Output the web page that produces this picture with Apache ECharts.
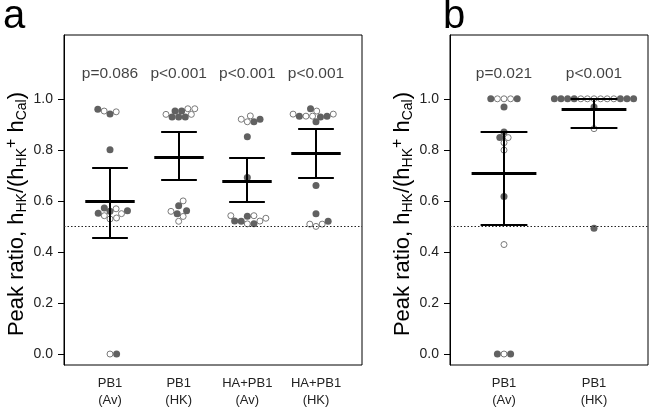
<!DOCTYPE html>
<html><head><meta charset="utf-8">
<script src="https://cdn.jsdelivr.net/npm/echarts@6/dist/echarts.min.js"></script>
<style>html,body{margin:0;padding:0;background:#fff}#c{width:650px;height:409px}</style>
</head><body><div id="c"></div>
<script>
// ---------- data ----------
const catA = ['PB1\n(Av)', 'PB1\n(HK)', 'HA+PB1\n(Av)', 'HA+PB1\n(HK)'];
const catB = ['PB1\n(Av)', 'PB1\n(HK)'];
const yTicks = [0, 0.2, 0.4, 0.6, 0.8, 1.0];

const a1Val  = [0.940, 0.949, 0.952, 0.959, 0.800, 0.572, 0.561, 0.569, 0.552, 0.542, 0.533, 0.529, 0.550, 0.559, 0.000, 0.000];
const a1Fill = [1, 0, 0, 1, 1, 1, 1, 0, 1, 0, 0, 0, 0, 1, 0, 1];
const a2Val  = [0.952, 0.939, 0.929, 0.929, 0.929, 0.961, 0.961, 0.939, 0.952, 0.600, 0.581, 0.561, 0.550, 0.559, 0.539, 0.520];
const a2Fill = [1, 0, 1, 1, 1, 0, 0, 0, 1, 0, 1, 1, 1, 0, 0, 0];
const a3Val  = [0.933, 0.920, 0.910, 0.910, 0.920, 0.851, 0.692, 0.540, 0.521, 0.521, 0.542, 0.542, 0.510, 0.510, 0.520, 0.532];
const a3Fill = [0, 0, 0, 1, 1, 1, 1, 1, 1, 0, 0, 0, 0, 1, 1, 0];
const a4Val  = [0.940, 0.929, 0.932, 0.952, 0.961, 0.932, 0.932, 0.932, 0.940, 0.910, 0.660, 0.550, 0.509, 0.500, 0.509, 0.520];
const a4Fill = [0, 1, 0, 0, 1, 0, 1, 1, 0, 1, 1, 1, 0, 0, 0, 1];
const b1Val  = [1, 1, 1, 1, 1, 0.968, 0.870, 0.848, 0.848, 0.828, 0.799, 0.617, 0.429, 0, 0, 0];
const b1Fill = [1, 0, 0, 0, 1, 1, 1, 1, 0, 0, 0, 1, 0, 1, 0, 1];
const b2Val  = [1, 1, 1, 1, 1, 1, 1, 1, 1, 1, 1, 1, 1, 0.968, 0.883, 0.493];
const b2Fill = [1, 1, 1, 1, 1, 1, 1, 0, 0, 0, 0, 0, 0, 1, 0, 1];

const meanA = [0.598, 0.773, 0.678, 0.789];
const upA   = [0.728, 0.870, 0.770, 0.881];
const loA   = [0.455, 0.680, 0.594, 0.689];
const meanB = [0.708, 0.959];
const upB   = [0.870, 1.000];
const loB   = [0.507, 0.887];

const pA = ['p=0.086', 'p<0.001', 'p<0.001', 'p<0.001'];
const pB = ['p=0.021', 'p<0.001'];
const pY = 1.10;
const refLine = 0.5;

// ---------- layout ----------
const FONT = '"Liberation Sans", Arial, Helvetica, sans-serif';
const Y_MIN = -0.043, Y_MAX = 1.25;
const GA = {left: 64, top: 35, width: 298, height: 331}, XA = [0.33, 4.67];
const GB = {left: 450, top: 35, width: 198, height: 331}, XB = [0.4, 2.6];
const DOT = 6.6;
const FILL = '#616161', OPEN_BORDER = '#7a7a7a';

function swarm(vals, fills, sx, sy, d) {
  const idx = vals.map((v, i) => i).sort((i, j) => (vals[i] - vals[j]) || (fills[i] - fills[j]) || (i - j));
  const placed = [], off = new Array(vals.length);
  for (const i of idx) {
    const y = vals[i] * sy;
    const cands = [0];
    for (const p of placed) {
      const dy = Math.abs(y - p.y);
      if (dy < d) { const dx = Math.sqrt(d * d - dy * dy); cands.push(p.x + dx, p.x - dx); }
    }
    let best = null;
    for (const c of cands) {
      let ok = true;
      for (const p of placed) { if ((c - p.x) ** 2 + (y - p.y) ** 2 < d * d - 1e-6) { ok = false; break; } }
      if (ok && (best === null || Math.abs(c) < Math.abs(best) - 1e-9)) best = c;
    }
    placed.push({x: best, y});
    off[i] = best / sx;
  }
  return off;
}

function pointSeries(groups, grid, X, axisIdx) {
  const sx = grid.width / (X[1] - X[0]);
  const sy = grid.height / (Y_MAX - Y_MIN);
  const filled = [], open = [];
  groups.forEach(([vals, fills], gi) => {
    const off = swarm(vals, fills, sx, sy, DOT);
    vals.forEach((v, i) => { (fills[i] ? filled : open).push([gi + 1 + off[i], v]); });
  });
  return [
    {type: 'scatter', xAxisIndex: axisIdx, yAxisIndex: axisIdx, data: open, symbol: 'circle', symbolSize: DOT - 0.6,
     itemStyle: {color: '#fff', borderColor: OPEN_BORDER, borderWidth: 1, opacity: 1}, z: 3, silent: true,
     markLine: {silent: true, symbol: ['none', 'none'], label: {show: false},
       lineStyle: {type: [1.5, 2], color: '#222', width: 1}, data: [{yAxis: refLine}]}},
    {type: 'scatter', xAxisIndex: axisIdx, yAxisIndex: axisIdx, data: filled, symbol: 'circle', symbolSize: DOT + 0.4,
     itemStyle: {color: FILL, opacity: 1}, z: 3, silent: true}
  ];
}

function errSeries(mean, lo, up, axisIdx) {
  return {
    type: 'custom', xAxisIndex: axisIdx, yAxisIndex: axisIdx, z: 5, silent: true,
    data: mean.map((m, i) => [i + 1, m, lo[i], up[i]]),
    renderItem(params, api) {
      const x = api.value(0);
      const pm = api.coord([x, api.value(1)]), pl = api.coord([x, api.value(2)]), pu = api.coord([x, api.value(3)]);
      const s = api.size([1, 0])[0];
      const hm = 0.36 * s, hc = 0.26 * s;
      const cx = Math.round(pm[0]);
      const ym = Math.round(pm[1]) + 0.5, yl = Math.round(pl[1]), yu = Math.round(pu[1]);
      const st = w => ({stroke: '#000', lineWidth: w});
      return {type: 'group', children: [
        {type: 'line', shape: {x1: cx, y1: yl, x2: cx, y2: yu}, style: st(2)},
        {type: 'line', shape: {x1: cx - hc, y1: yl, x2: cx + hc, y2: yl}, style: st(2)},
        {type: 'line', shape: {x1: cx - hc, y1: yu, x2: cx + hc, y2: yu}, style: st(2)},
        {type: 'line', shape: {x1: cx - hm, y1: ym, x2: cx + hm, y2: ym}, style: st(3)}
      ]};
    }
  };
}

function pSeries(labels, axisIdx) {
  return {type: 'scatter', xAxisIndex: axisIdx, yAxisIndex: axisIdx, symbolSize: 0, silent: true,
    data: labels.map((t, i) => [i + 1, pY]),
    label: {show: true, position: 'inside', formatter: p => labels[p.dataIndex], fontSize: 15.5, color: '#111', fontFamily: FONT}};
}

function xAxis(X, cats, gi) {
  return {type: 'value', gridIndex: gi, min: X[0], max: X[1],
    axisLine: {show: false}, axisTick: {show: false}, splitLine: {show: false},
    axisLabel: {customValues: cats.map((c, i) => i + 1), formatter: v => cats[Math.round(v) - 1] || '',
      fontSize: 13, lineHeight: 17, color: '#222', margin: 10, fontFamily: FONT}};
}

const yName = '{n|Peak ratio, h}{s|HK}{n|/(h}{s|HK}{p|+}{n| h}{s|Cal}{n|)}';
function yAxis(gi) {
  return {type: 'value', gridIndex: gi, min: Y_MIN, max: Y_MAX,
    axisLine: {show: true, lineStyle: {color: '#000', width: 1}},
    axisTick: {show: true, length: 6, customValues: yTicks, lineStyle: {color: '#000'}},
    splitLine: {show: false},
    axisLabel: {customValues: yTicks, formatter: v => v.toFixed(1), fontSize: 14, color: '#222', margin: 11, fontFamily: FONT},
    name: yName, nameLocation: 'middle', nameRotate: 90, nameGap: 35,
    nameTextStyle: {fontFamily: FONT, color: '#000', padding: [0, 28, 0, 0], rich: {
      n: {fontSize: 22, lineHeight: 25, fontFamily: FONT, color: '#000'},
      s: {fontSize: 14, lineHeight: 8, verticalAlign: 'bottom', fontFamily: FONT, color: '#000'},
      p: {fontSize: 16, lineHeight: 10, verticalAlign: 'top', fontFamily: FONT, color: '#000'}
    }}};
}

const chart = echarts.init(document.getElementById('c'), null, {renderer: 'canvas'});
chart.setOption({
  animation: false,
  backgroundColor: '#fff',
  grid: [
    Object.assign({show: true, borderColor: '#000', borderWidth: 1, backgroundColor: 'transparent'}, GA),
    Object.assign({show: true, borderColor: '#000', borderWidth: 1, backgroundColor: 'transparent'}, GB)
  ],
  xAxis: [xAxis(XA, catA, 0), xAxis(XB, catB, 1)],
  yAxis: [yAxis(0), yAxis(1)],
  graphic: [
    {type: 'text', left: 3, top: -3, style: {text: 'a', font: '40px ' + FONT, fill: '#000'}},
    {type: 'text', left: 443, top: -3, style: {text: 'b', font: '40px ' + FONT, fill: '#000'}}
  ],
  series: [
    ...pointSeries([[a1Val, a1Fill], [a2Val, a2Fill], [a3Val, a3Fill], [a4Val, a4Fill]], GA, XA, 0),
    ...pointSeries([[b1Val, b1Fill], [b2Val, b2Fill]], GB, XB, 1),
    errSeries(meanA, loA, upA, 0),
    errSeries(meanB, loB, upB, 1),
    pSeries(pA, 0),
    pSeries(pB, 1)
  ]
});
</script></body></html>
